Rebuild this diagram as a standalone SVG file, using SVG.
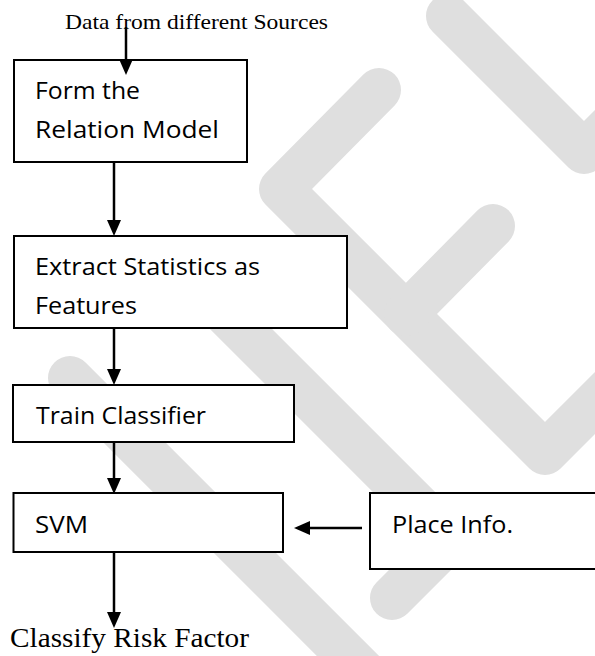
<svg xmlns="http://www.w3.org/2000/svg" width="595" height="656" viewBox="0 0 595 656">
  <style>
    .box { fill: #ffffff; stroke: #000000; stroke-width: 2; }
    .lbl { font-family: "Open Sans", "Liberation Sans", sans-serif; font-size: 24px; fill: #000000; }
    .serif { font-family: "Liberation Serif", "Times New Roman", serif; fill: #000000; }
    .wire { stroke: #000000; stroke-width: 2.5; fill: none; }
    .mark { stroke: #dfdfdf; stroke-width: 44; fill: none; stroke-linecap: round; stroke-linejoin: round; }
  </style>
  <defs>
    <marker id="head" markerUnits="userSpaceOnUse" markerWidth="16" markerHeight="14" refX="0" refY="7" orient="auto">
      <path d="M0,0 L16,7 L0,14 Z" fill="#000000"/>
    </marker>
  </defs>

  <rect width="595" height="656" fill="#ffffff"/>

  <!-- background logo bands -->
  <g id="watermark">
    <path class="mark" d="M448,16 L584,152 L740,-4"/>
    <path class="mark" d="M379,90 L281,189 L545,453 L720,278"/>
    <path class="mark" d="M493,226 L406,314"/>
    <path class="mark" d="M70,378 L420,728"/>
    <path class="mark" d="M200,288 L451,539 L392,598"/>
  </g>

  <g id="source">
    <text class="serif" x="65" y="29" font-size="22" textLength="263" lengthAdjust="spacingAndGlyphs">Data from different Sources</text>
  </g>

  <g id="relation-model">
    <rect class="box" x="14" y="60" width="233" height="102"/>
    <text class="lbl" x="35" y="99" textLength="105" lengthAdjust="spacingAndGlyphs">Form the</text>
    <text class="lbl" x="35" y="138" textLength="184" lengthAdjust="spacingAndGlyphs">Relation Model</text>
  </g>

  <g id="extract-features">
    <rect class="box" x="14" y="236" width="333" height="92"/>
    <text class="lbl" x="35" y="275" textLength="225" lengthAdjust="spacingAndGlyphs">Extract Statistics as</text>
    <text class="lbl" x="35" y="314" textLength="102" lengthAdjust="spacingAndGlyphs">Features</text>
  </g>

  <g id="train-classifier">
    <rect class="box" x="13" y="385" width="281" height="57"/>
    <text class="lbl" x="36" y="424" textLength="170" lengthAdjust="spacingAndGlyphs">Train Classifier</text>
  </g>

  <g id="svm">
    <rect class="box" x="13.5" y="493" width="269.5" height="59"/>
    <text class="lbl" x="35" y="533" textLength="53" lengthAdjust="spacingAndGlyphs">SVM</text>
  </g>

  <g id="place-info">
    <rect class="box" x="370" y="493" width="260" height="76"/>
    <text class="lbl" x="392" y="533" textLength="121" lengthAdjust="spacingAndGlyphs">Place Info.</text>
  </g>

  <g id="result">
    <text class="serif" x="10" y="647" font-size="27" textLength="239" lengthAdjust="spacingAndGlyphs">Classify Risk Factor</text>
  </g>

  <g id="connectors">
    <path class="wire" d="M126,27 V59" marker-end="url(#head)"/>
    <path class="wire" d="M114,162 V220" marker-end="url(#head)"/>
    <path class="wire" d="M114,328 V369" marker-end="url(#head)"/>
    <path class="wire" d="M114,442 V478" marker-end="url(#head)"/>
    <path class="wire" d="M114,552 V612" marker-end="url(#head)"/>
    <path class="wire" d="M362,528 H310" marker-end="url(#head)"/>
  </g>
</svg>
